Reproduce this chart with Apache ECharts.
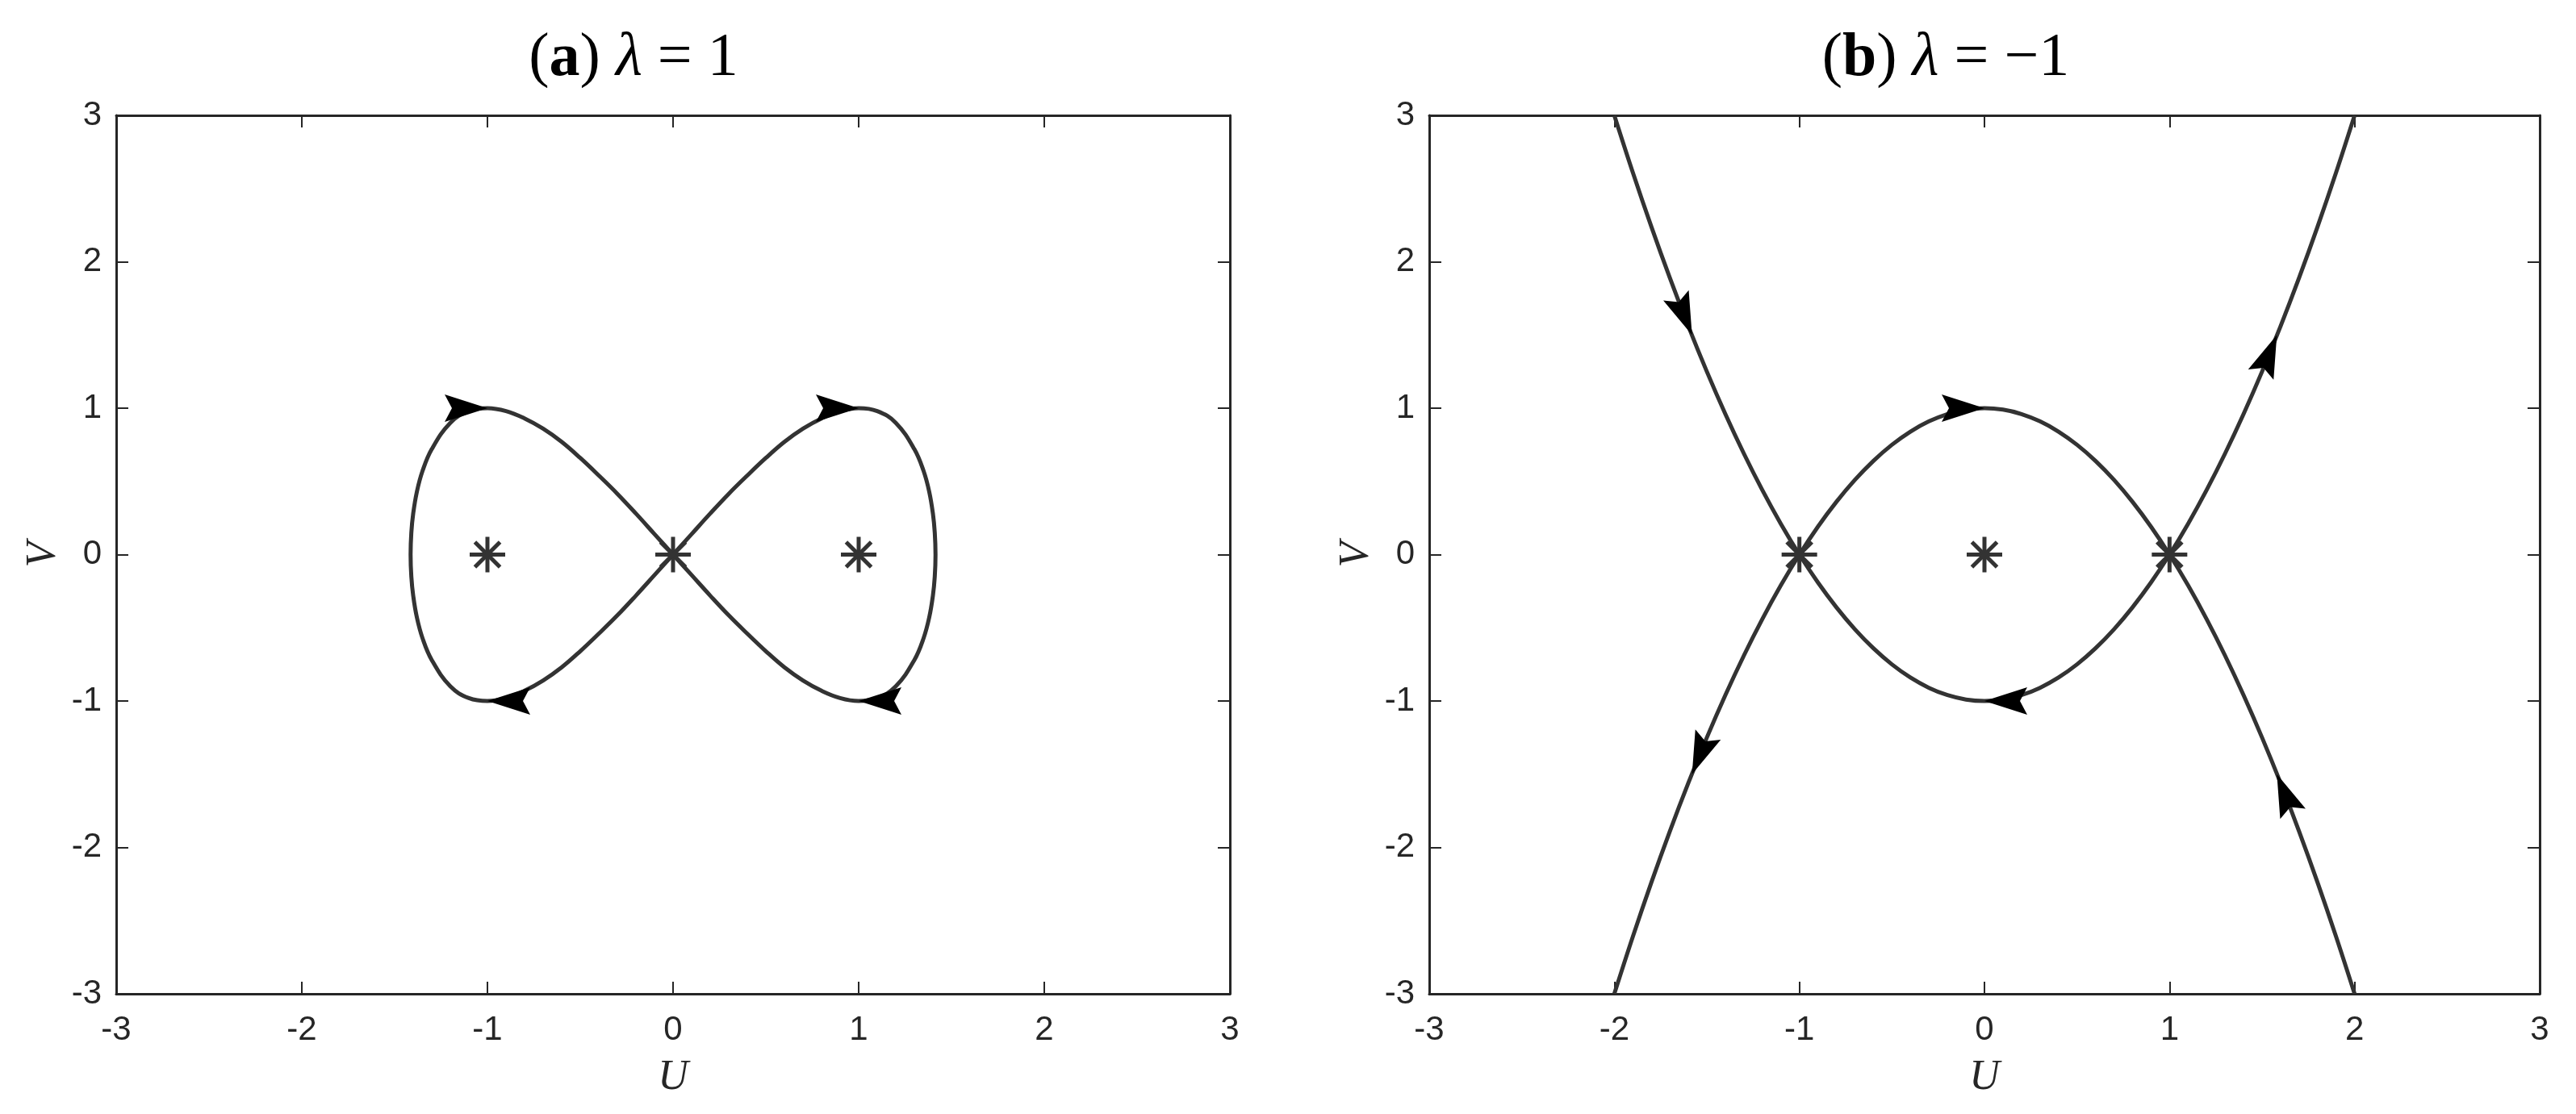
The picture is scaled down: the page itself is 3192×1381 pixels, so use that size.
<!DOCTYPE html>
<html>
<head>
<meta charset="utf-8">
<title>phase portraits</title>
<script src="https://cdn.jsdelivr.net/npm/echarts@6/dist/echarts.min.js"></script>
<style>
  html, body { margin: 0; padding: 0; background: #fff; }
  #chart { width: 3192px; height: 1381px; }
</style>
</head>
<body>
<div id="chart"></div>
<script>
// axis ticks, same on both panels
var ticks = [-3, -2, -1, 0, 1, 2, 3];

// (a) lambda = 1 : upper right quarter of the figure eight
var lobeU = [0, 0.1, 0.2, 0.3, 0.4, 0.5, 0.6, 0.7, 0.8, 0.9, 1.0, 1.1, 1.2, 1.3, 1.35, 1.38, 1.4, 1.41, 1.414];
var lobeV = [0, 0.14, 0.28, 0.415, 0.54, 0.66, 0.77, 0.86, 0.93, 0.98, 1.0, 0.98, 0.9, 0.72, 0.57, 0.43, 0.28, 0.15, 0];

// (b) lambda = -1 : the two separatrix arches
var sepU = [-2, -1.9, -1.8, -1.7, -1.6, -1.5, -1.4, -1.3, -1.2, -1.1, -1, -0.9, -0.8, -0.7, -0.6, -0.5, -0.4, -0.3, -0.2, -0.1,
  0, 0.1, 0.2, 0.3, 0.4, 0.5, 0.6, 0.7, 0.8, 0.9, 1, 1.1, 1.2, 1.3, 1.4, 1.5, 1.6, 1.7, 1.8, 1.9, 2];
var sepUpV = [-3, -2.61, -2.24, -1.89, -1.56, -1.25, -0.96, -0.69, -0.44, -0.21, 0, 0.19, 0.36, 0.51, 0.64, 0.75, 0.84, 0.91, 0.96, 0.99,
  1, 0.99, 0.96, 0.91, 0.84, 0.75, 0.64, 0.51, 0.36, 0.19, 0, -0.21, -0.44, -0.69, -0.96, -1.25, -1.56, -1.89, -2.24, -2.61, -3];
var sepDownV = [3, 2.61, 2.24, 1.89, 1.56, 1.25, 0.96, 0.69, 0.44, 0.21, 0, -0.19, -0.36, -0.51, -0.64, -0.75, -0.84, -0.91, -0.96, -0.99,
  -1, -0.99, -0.96, -0.91, -0.84, -0.75, -0.64, -0.51, -0.36, -0.19, 0, 0.21, 0.44, 0.69, 0.96, 1.25, 1.56, 1.89, 2.24, 2.61, 3];

// equilibria (asterisks)
var eqA = [[-1, 0], [0, 0], [1, 0]];
var eqB = [[-1, 0], [0, 0], [1, 0]];

// arrow heads: [tipU, tipV, tailU, tailV]
var arrowsA = [
  [-1, 1, -1.2, 1],
  [1, 1, 0.8, 1],
  [-1, -1, -0.8, -1],
  [1, -1, 1.2, -1]
];
var arrowsB = [
  [0, 1, -0.2, 1],
  [0, -1, 0.2, -1],
  [-1.58, 1.5, -1.66, 1.75],
  [1.58, 1.5, 1.5, 1.25],
  [-1.58, -1.5, -1.5, -1.25],
  [1.58, -1.5, 1.66, -1.75]
];

var titleA = '({b|a}) {i|λ} = 1';
var titleB = '({b|b}) {i|λ} = −1';

// figure eight as one path: right lobe then left lobe
var eight = [];
var n = lobeU.length, i;
for (i = 0; i < n; i++) eight.push([lobeU[i], lobeV[i]]);
for (i = n - 2; i >= 0; i--) eight.push([lobeU[i], -lobeV[i]]);
for (i = 1; i < n; i++) eight.push([-lobeU[i], lobeV[i]]);
for (i = n - 2; i >= 0; i--) eight.push([-lobeU[i], -lobeV[i]]);

function pairs(xs, ys) {
  return xs.map(function (x, k) { return [x, ys[k]]; });
}

var axisColor = '#262626';
var curveColor = '#333333';

function xAxisFor(grid, top) {
  return {
    type: 'value', gridIndex: grid, position: top ? 'top' : 'bottom',
    min: ticks[0], max: ticks[ticks.length - 1], interval: 1,
    name: top ? '' : 'U', nameLocation: 'middle', nameGap: 78,
    nameTextStyle: { fontFamily: 'Liberation Serif', fontStyle: 'italic', fontSize: 52, color: axisColor },
    axisLine: { show: true, onZero: false, lineStyle: { color: axisColor, width: 3 } },
    axisTick: { show: true, inside: true, length: 15, lineStyle: { color: axisColor, width: 2 } },
    axisLabel: { show: !top, margin: 24, fontFamily: 'Liberation Sans', fontSize: 42, color: axisColor,
      showMinLabel: true, showMaxLabel: true },
    splitLine: { show: false }
  };
}

function yAxisFor(grid, right) {
  return {
    type: 'value', gridIndex: grid, position: right ? 'right' : 'left',
    min: ticks[0], max: ticks[ticks.length - 1], interval: 1,
    name: right ? '' : 'V', nameLocation: 'middle', nameGap: 64,
    nameTextStyle: { fontFamily: 'Liberation Serif', fontStyle: 'italic', fontSize: 52, color: axisColor },
    axisLine: { show: true, onZero: false, lineStyle: { color: axisColor, width: 3 } },
    axisTick: { show: true, inside: true, length: 15, lineStyle: { color: axisColor, width: 2 } },
    axisLabel: { show: !right, margin: 18, fontFamily: 'Liberation Sans', fontSize: 42, color: axisColor,
      showMinLabel: true, showMaxLabel: true },
    splitLine: { show: false }
  };
}

function curve(data, grid) {
  return {
    type: 'line', xAxisIndex: grid * 2, yAxisIndex: grid * 2,
    data: data, showSymbol: false, smooth: 0.4, silent: true,
    lineStyle: { color: curveColor, width: 5 }, z: 2
  };
}

function stars(data, grid) {
  return {
    type: 'custom', xAxisIndex: grid * 2, yAxisIndex: grid * 2, z: 3, silent: true,
    data: data,
    renderItem: function (params, api) {
      var p = api.coord([api.value(0), api.value(1)]);
      var r = 22, d = r * Math.SQRT1_2;
      var segs = [[0, -r, 0, r], [-r, 0, r, 0], [-d, -d, d, d], [-d, d, d, -d]];
      return {
        type: 'group',
        children: segs.map(function (s) {
          return {
            type: 'line',
            shape: { x1: p[0] + s[0], y1: p[1] + s[1], x2: p[0] + s[2], y2: p[1] + s[3] },
            style: { stroke: curveColor, lineWidth: 5 }
          };
        })
      };
    }
  };
}

function arrows(data, grid) {
  return {
    type: 'custom', xAxisIndex: grid * 2, yAxisIndex: grid * 2, z: 4, silent: true,
    data: data,
    encode: { x: [0, 2], y: [1, 3] },
    renderItem: function (params, api) {
      var tip = api.coord([api.value(0), api.value(1)]);
      var tail = api.coord([api.value(2), api.value(3)]);
      var a = Math.atan2(tip[1] - tail[1], tip[0] - tail[0]);
      var c = Math.cos(a), s = Math.sin(a);
      // head shape in local coords, tip at origin pointing +x
      var local = [[0, 0], [-53, -17], [-44, 0], [-53, 17]];
      var pts = local.map(function (q) {
        return [tip[0] + q[0] * c - q[1] * s, tip[1] + q[0] * s + q[1] * c];
      });
      return { type: 'polygon', shape: { points: pts }, style: { fill: '#000' } };
    }
  };
}

var titleStyle = {
  fontFamily: 'Liberation Serif', fontSize: 76, fontWeight: 'normal', color: '#000',
  rich: {
    b: { fontFamily: 'Liberation Serif', fontSize: 76, fontWeight: 'bold', color: '#000' },
    i: { fontFamily: 'Liberation Serif', fontSize: 76, fontStyle: 'italic', fontWeight: 'normal', color: '#000' }
  }
};

var chart = echarts.init(document.getElementById('chart'), null, { renderer: 'canvas' });

var option = {
  backgroundColor: '#fff',
  animation: false,
  title: [
    { text: titleA, left: 780, top: 30, textAlign: 'center', textStyle: titleStyle },
    { text: titleB, left: 2406, top: 30, textAlign: 'center', textStyle: titleStyle }
  ],
  grid: [
    { left: 144, top: 143, width: 1380, height: 1089 },
    { left: 1771, top: 143, width: 1376, height: 1089 }
  ],
  xAxis: [xAxisFor(0, false), xAxisFor(0, true), xAxisFor(1, false), xAxisFor(1, true)],
  yAxis: [yAxisFor(0, false), yAxisFor(0, true), yAxisFor(1, false), yAxisFor(1, true)],
  series: [
    curve(eight, 0),
    stars(eqA, 0),
    arrows(arrowsA, 0),
    curve(pairs(sepU, sepUpV), 1),
    curve(pairs(sepU, sepDownV), 1),
    stars(eqB, 1),
    arrows(arrowsB, 1)
  ]
};

chart.setOption(option);
</script>
</body>
</html>
